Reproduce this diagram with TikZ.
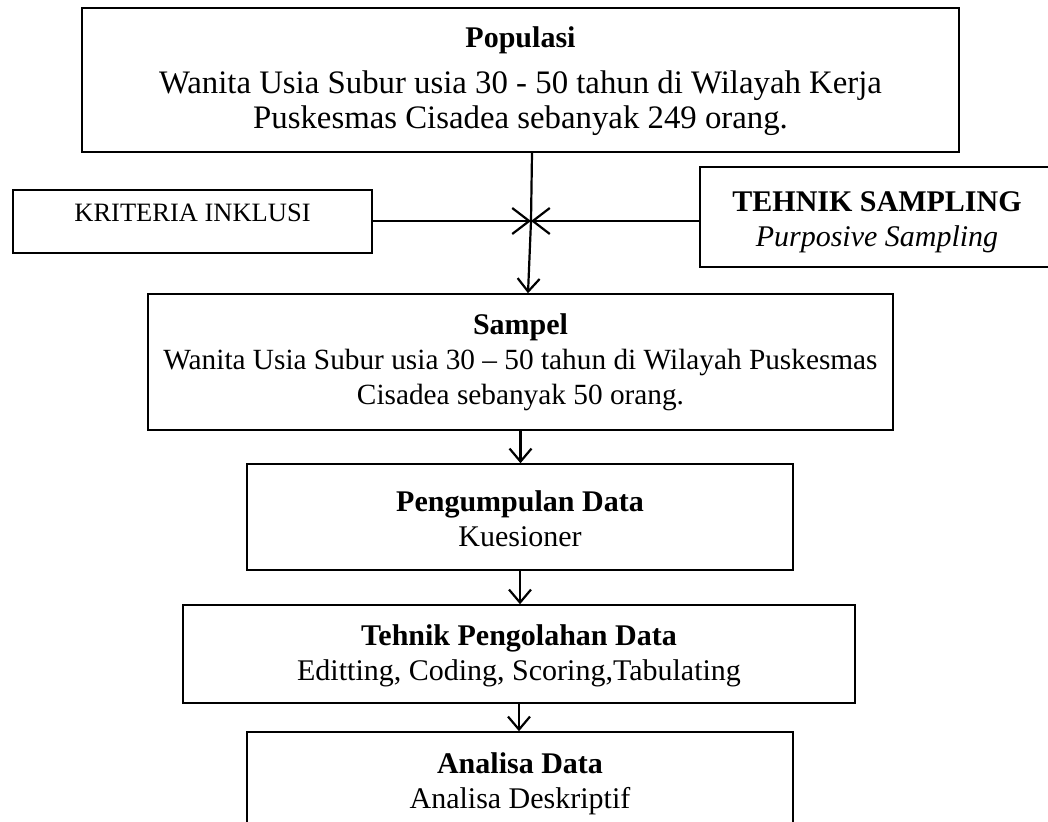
\documentclass[tikz,border=0pt]{standalone}
\usepackage{fontspec}
\setmainfont{Liberation Serif}
\usetikzlibrary{arrows.meta,calc}
\newcommand\popfont{\fontsize{32.8}{37}\selectfont}
\newcommand\sampfont{\fontsize{29.3}{35}\selectfont}
\begin{document}
\begin{tikzpicture}[x=1pt,y=-1pt,
  box/.style={draw, line width=1.5pt, inner sep=0pt},
  txt/.style={align=center, inner sep=0pt, font=\fontsize{30}{35}\selectfont},
  conn/.style={line width=2.2pt, -{Straight Barb[length=13pt,width=22pt,line width=2.2pt]}}]
\useasboundingbox (0,0) rectangle (1048,821);
\begin{scope}
\clip (0,0) rectangle (1048,821);
\node[box, minimum width=877, minimum height=144,
  label={[txt, yshift=-1.5pt]center:{\textbf{Populasi}\\[11pt]\popfont Wanita Usia Subur usia 30 - 50 tahun di Wilayah Kerja\\\popfont Puskesmas Cisadea sebanyak 249 orang.}}] (pop) at (520.5,80) {};
\node[box, minimum width=359, minimum height=63,
  label={[txt, yshift=8.5pt, font=\fontsize{26.5}{30}\selectfont]center:{KRITERIA INKLUSI}}] (krit) at (192.5,221.5) {};
\node[box, minimum width=354, minimum height=100,
  label={[txt, yshift=-5pt]center:{\textbf{TEHNIK SAMPLING}\\\textit{Purposive Sampling}}}] (tek) at (877,217) {};
\node[box, minimum width=745, minimum height=136,
  label={[txt]center:{\textbf{Sampel}\\\sampfont Wanita Usia Subur usia 30 -- 50 tahun di Wilayah Puskesmas\\\sampfont Cisadea sebanyak 50 orang.}}] (samp) at (520.5,362) {};
\node[box, minimum width=546, minimum height=106,
  label={[txt, yshift=-2pt]center:{\textbf{Pengumpulan Data}\\Kuesioner}}] (kumpul) at (520,517) {};
\node[box, minimum width=672, minimum height=98,
  label={[txt, yshift=-2pt]center:{\textbf{Tehnik Pengolahan Data}\\Editting, Coding, Scoring,Tabulating}}] (olah) at (519,654) {};
\node[box, minimum width=546, minimum height=120,
  label={[txt, yshift=8pt]center:{\textbf{Analisa Data}\\Analisa Deskriptif}}] (anal) at (520,792) {};
\end{scope}
\coordinate (j) at (531,221);
\draw[line width=2.2pt] ($(pop.south)+(11.5,0)$) -- (j);
\draw[conn] (j) -- ($(samp.north)+(7.5,0)$);
\draw[conn, -{Straight Barb[length=17pt,width=26pt,line width=2.2pt]}] (krit.east |- j) -- (j);
\draw[conn, -{Straight Barb[length=17pt,width=26pt,line width=2.2pt]}] (tek.west |- j) -- (j);
\draw[conn] (samp.south) -- ($(kumpul.north)+(0.5,0)$);
\draw[conn] (kumpul.south) -- ($(olah.north)+(1,0)$);
\draw[conn] (olah.south) -- ($(anal.north)+(-1,0)$);
\end{tikzpicture}
\end{document}
